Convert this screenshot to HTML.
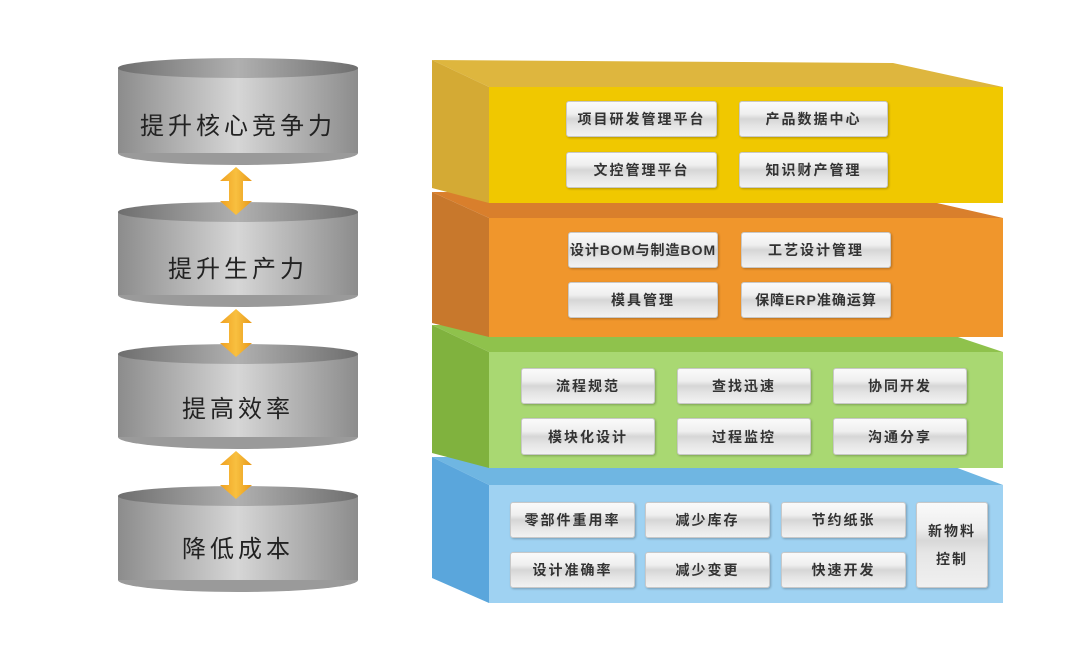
<!DOCTYPE html>
<html><head><meta charset="utf-8"><style>
body{margin:0;background:#fff;}
#c{position:relative;width:1080px;height:652px;overflow:hidden;font-family:"Liberation Sans","Noto Sans CJK SC",sans-serif;}
.b{position:absolute;box-sizing:border-box;border:1px solid #c8c8c8;border-radius:3px;background:linear-gradient(#fafafa 0%,#efefef 35%,#d6d6d6 50%,#e4e4e4 70%,#f2f2f2 100%);box-shadow:1px 1px 2px rgba(0,0,0,.25);display:flex;align-items:center;justify-content:center;font-size:14px;font-weight:bold;color:#333;letter-spacing:2px;}
.t{position:absolute;left:118px;width:240px;text-align:center;font-size:24px;color:#222;letter-spacing:4px;}
</style></head><body><div id="c">
<svg width="1080" height="652" style="position:absolute;left:0;top:0">
<defs>
<linearGradient id="body" x1="0" x2="1"><stop offset="0" stop-color="#8c8c8c"/><stop offset=".5" stop-color="#d6d6d6"/><stop offset="1" stop-color="#8c8c8c"/></linearGradient>
<linearGradient id="top" x1="0" x2="1"><stop offset="0" stop-color="#6e6e6e"/><stop offset=".5" stop-color="#b0b0b0"/><stop offset="1" stop-color="#6e6e6e"/></linearGradient>
<linearGradient id="ar" x1="0" x2="1"><stop offset="0" stop-color="#f0a020"/><stop offset=".5" stop-color="#f8c040"/><stop offset="1" stop-color="#e89818"/></linearGradient>
</defs>
<g id="cyls">
<g><ellipse cx="238" cy="153" rx="120" ry="12" fill="#9a9a9a"/><rect x="118" y="68" width="240" height="85" fill="url(#body)"/><ellipse cx="238" cy="68" rx="120" ry="10" fill="url(#top)"/></g>
<g><ellipse cx="238" cy="295" rx="120" ry="12" fill="#9a9a9a"/><rect x="118" y="212" width="240" height="83" fill="url(#body)"/><ellipse cx="238" cy="212" rx="120" ry="10" fill="url(#top)"/></g>
<g><ellipse cx="238" cy="437" rx="120" ry="12" fill="#9a9a9a"/><rect x="118" y="354" width="240" height="83" fill="url(#body)"/><ellipse cx="238" cy="354" rx="120" ry="10" fill="url(#top)"/></g>
<g><ellipse cx="238" cy="580" rx="120" ry="12" fill="#9a9a9a"/><rect x="118" y="496" width="240" height="84" fill="url(#body)"/><ellipse cx="238" cy="496" rx="120" ry="10" fill="url(#top)"/></g>
</g>
<g fill="url(#ar)">
<polygon points="236,167 252,181 243,181 243,201 252,201 236,215 220,201 229,201 229,181 220,181"/>
<polygon points="236,309 252,323 243,323 243,343 252,343 236,357 220,343 229,343 229,323 220,323"/>
<polygon points="236,451 252,465 243,465 243,485 252,485 236,499 220,485 229,485 229,465 220,465"/>
</g>
<!-- blue -->
<polygon points="432,457 928,457 1003,485 489,485" fill="#6fb6e2"/>
<polygon points="432,457 489,485 489,603 432,578" fill="#5aa6dc"/>
<rect x="489" y="485" width="514" height="118" fill="#9fd2f2"/>
<!-- green -->
<polygon points="432,325 928,327 1003,352 489,352" fill="#8fc24c"/>
<polygon points="432,325 489,352 489,468 432,453" fill="#80b23e"/>
<rect x="489" y="352" width="514" height="116" fill="#a9d872"/>
<!-- orange -->
<polygon points="432,192 893,193 1003,218 489,218" fill="#d97f2c"/>
<polygon points="432,192 489,218 489,337 432,323" fill="#c8782c"/>
<rect x="489" y="218" width="514" height="119" fill="#f0962c"/>
<!-- yellow -->
<polygon points="432,60 893,63 1003,87 489,87" fill="#deb63e"/>
<polygon points="432,60 489,87 489,203 432,188" fill="#d4aa34"/>
<rect x="489" y="87" width="514" height="116" fill="#f0c800"/>
</svg>
<div class="t" style="top:106px">提升核心竞争力</div>
<div class="t" style="top:249px">提升生产力</div>
<div class="t" style="top:389px">提高效率</div>
<div class="t" style="top:529px">降低成本</div>

<div class="b" style="left:566px;top:101px;width:151px;height:36px">项目研发管理平台</div>
<div class="b" style="left:739px;top:101px;width:149px;height:36px">产品数据中心</div>
<div class="b" style="left:566px;top:152px;width:151px;height:36px">文控管理平台</div>
<div class="b" style="left:739px;top:152px;width:149px;height:36px">知识财产管理</div>

<div class="b" style="left:568px;top:232px;width:150px;height:36px;letter-spacing:1px">设计BOM与制造BOM</div>
<div class="b" style="left:741px;top:232px;width:150px;height:36px">工艺设计管理</div>
<div class="b" style="left:568px;top:282px;width:150px;height:36px">模具管理</div>
<div class="b" style="left:741px;top:282px;width:150px;height:36px;letter-spacing:1px">保障ERP准确运算</div>

<div class="b" style="left:521px;top:368px;width:134px;height:36px">流程规范</div>
<div class="b" style="left:677px;top:368px;width:134px;height:36px">查找迅速</div>
<div class="b" style="left:833px;top:368px;width:134px;height:36px">协同开发</div>
<div class="b" style="left:521px;top:418px;width:134px;height:37px">模块化设计</div>
<div class="b" style="left:677px;top:418px;width:134px;height:37px">过程监控</div>
<div class="b" style="left:833px;top:418px;width:134px;height:37px">沟通分享</div>

<div class="b" style="left:510px;top:502px;width:125px;height:36px">零部件重用率</div>
<div class="b" style="left:645px;top:502px;width:125px;height:36px">减少库存</div>
<div class="b" style="left:781px;top:502px;width:125px;height:36px">节约纸张</div>
<div class="b" style="left:510px;top:552px;width:125px;height:36px">设计准确率</div>
<div class="b" style="left:645px;top:552px;width:125px;height:36px">减少变更</div>
<div class="b" style="left:781px;top:552px;width:125px;height:36px">快速开发</div>
<div class="b" style="left:916px;top:502px;width:72px;height:86px;flex-direction:column;line-height:28px;background:linear-gradient(#fafafa 0%,#eee 30%,#d8d8d8 45%,#e6e6e6 60%,#f0f0f0 100%)"><span>新物料</span><span>控制</span></div>
</div></body></html>
